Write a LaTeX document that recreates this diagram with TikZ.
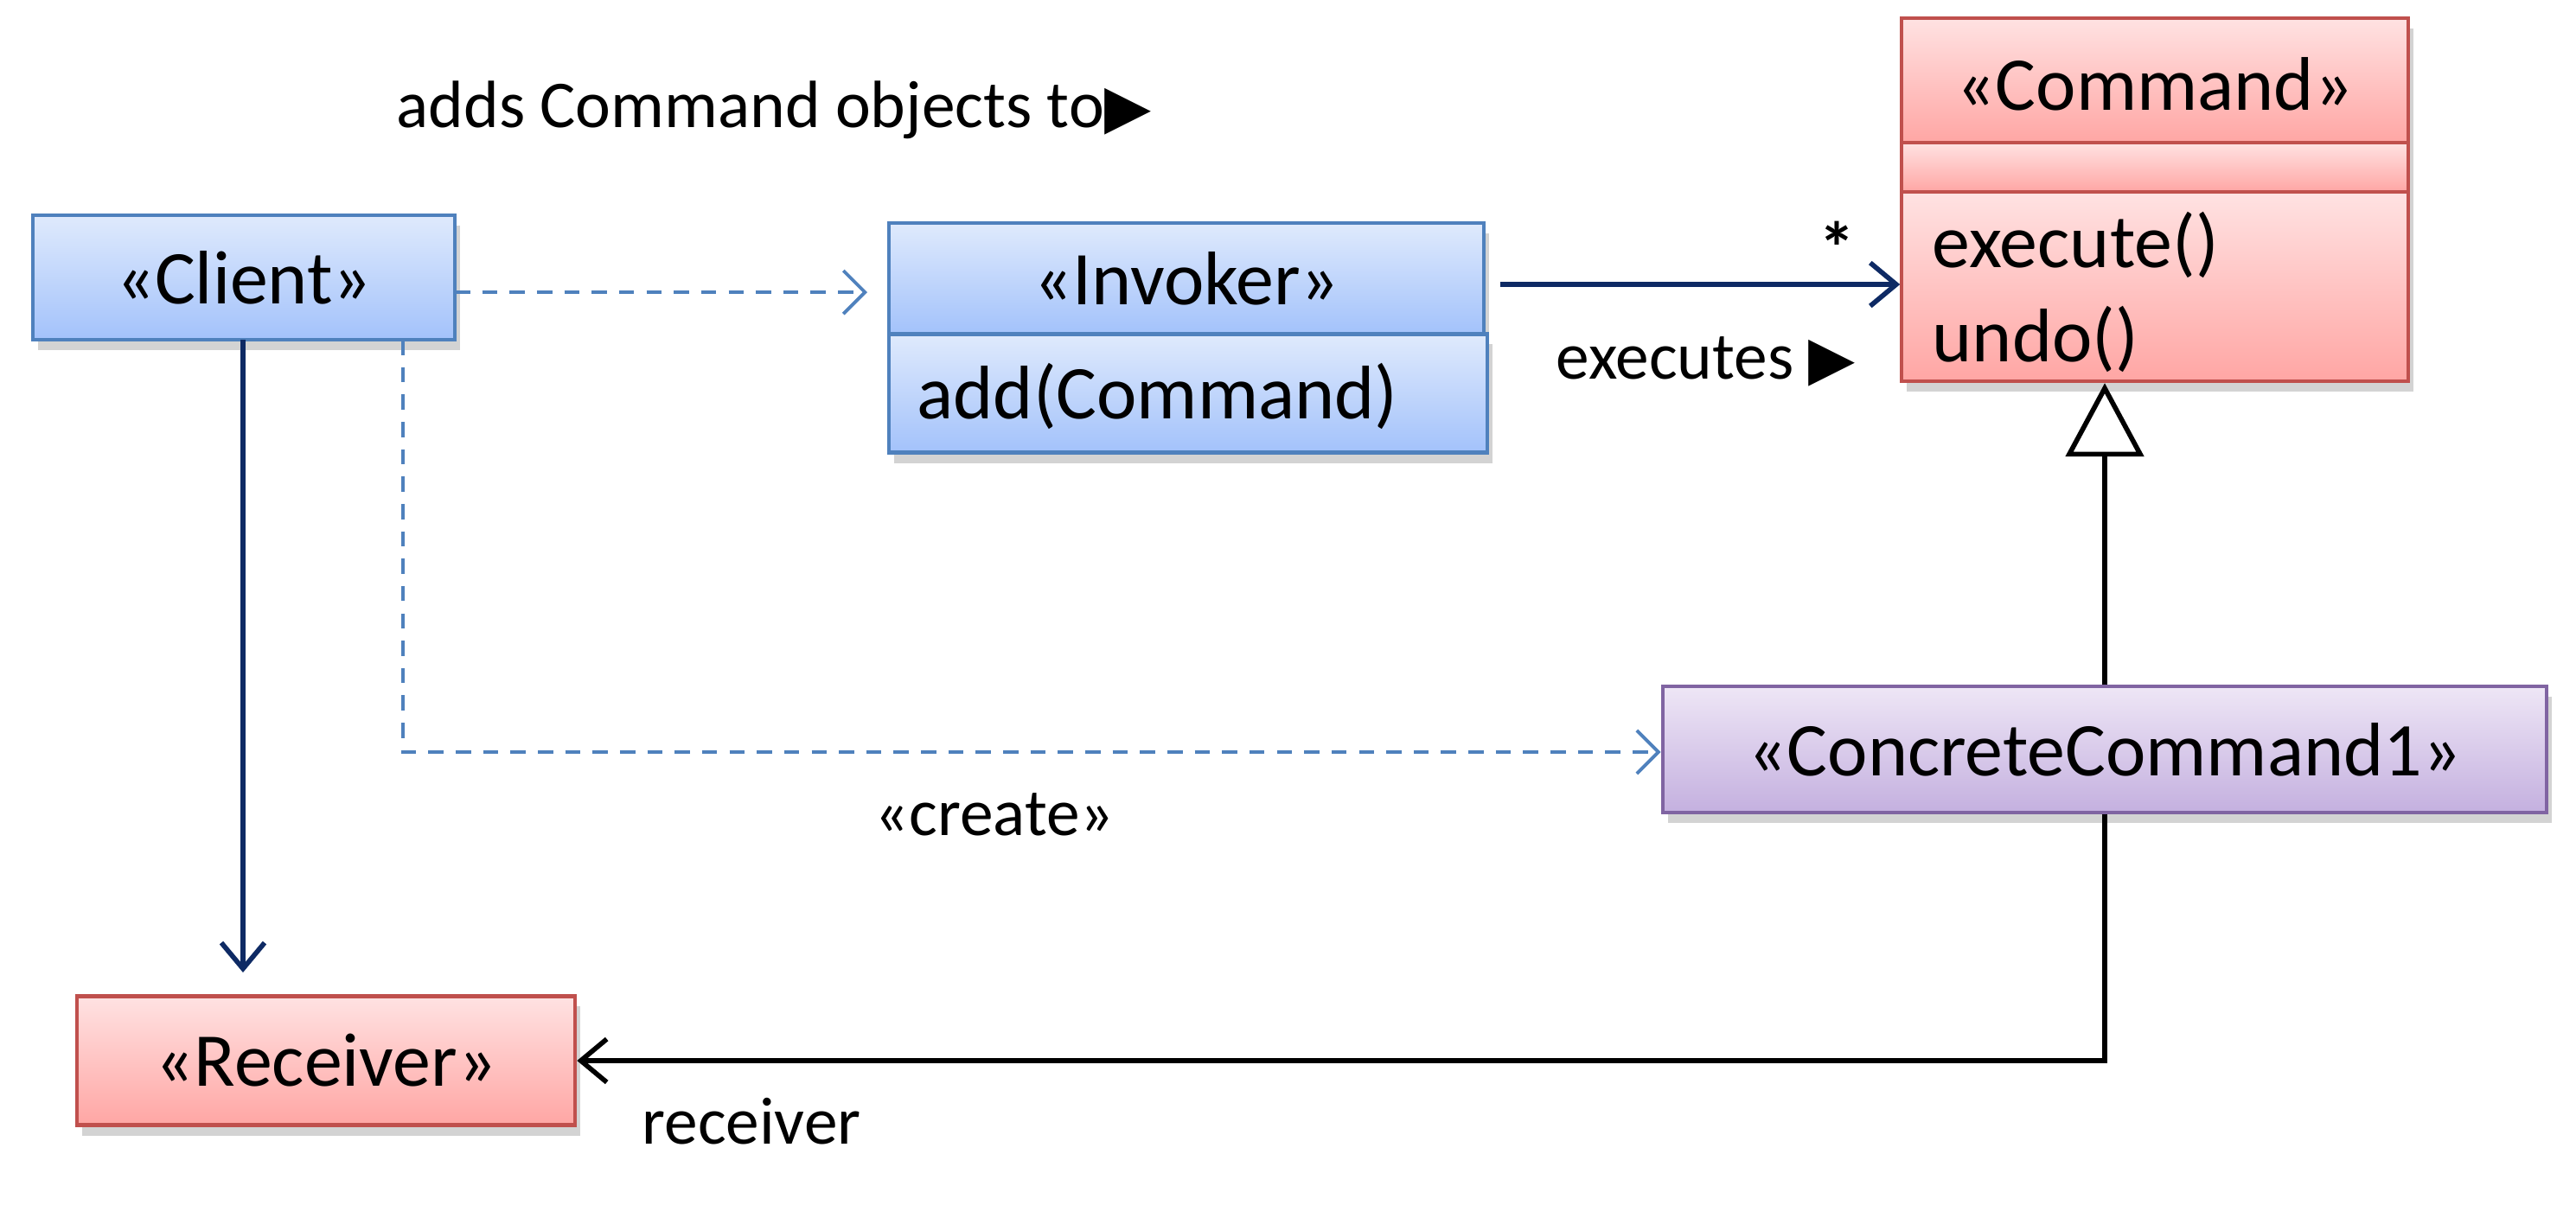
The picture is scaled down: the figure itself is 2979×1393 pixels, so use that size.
\documentclass[tikz,border=0pt]{standalone}
\usepackage{fontspec}
\setmainfont{Carlito}
\newfontfamily\dejavu{DejaVu Sans}
\usetikzlibrary{arrows.meta,shadows}
\definecolor{bluetop}{HTML}{DFEAFC}
\definecolor{bluebot}{HTML}{A3C2FB}
\definecolor{blueedge}{HTML}{4F81BD}
\definecolor{redtop}{HTML}{FFE2E2}
\definecolor{redbot}{HTML}{FFA6A4}
\definecolor{rededge}{HTML}{C0504D}
\definecolor{purtop}{HTML}{EEE6F6}
\definecolor{purbot}{HTML}{C4B0DF}
\definecolor{puredge}{HTML}{8064A2}
\definecolor{navy}{HTML}{0E2A64}
\tikzset{
  box/.style={draw, line width=1.2pt, inner sep=0pt, font=\fontsize{25}{30}\selectfont,
    drop shadow={shadow xshift=0.6mm, shadow yshift=-1.2mm, opacity=0.35}},
  bluebox/.style={box, draw=blueedge, top color=bluetop, bottom color=bluebot},
  redbox/.style={box, draw=rededge, top color=redtop, bottom color=redbot},
  purbox/.style={box, draw=puredge, top color=purtop, bottom color=purbot},
  lbl/.style={font=\fontsize{22}{26}\selectfont, inner sep=0pt},
  txt/.style={font=\fontsize{25}{30}\selectfont, inner sep=0pt, anchor=west},
  assoc/.style={draw=navy, line width=1.6pt, -{Straight Barb[length=3mm,width=5mm,line width=1.6pt]}},
  dep/.style={draw=blueedge, line width=1.1pt, dash pattern=on 5pt off 4pt, -{Straight Barb[length=2.5mm,width=5mm,line width=1.1pt]}},
  gen/.style={draw=black, line width=1.6pt, -{Triangle[open,length=8.5mm,width=9mm,line width=1.6pt]}},
  real/.style={draw=black, line width=1.6pt, -{Straight Barb[length=3mm,width=5mm,line width=1.6pt]}},
}
\begin{document}
\begin{tikzpicture}[x=0.01cm,y=-0.01cm]
\useasboundingbox (0,0) rectangle (2979,1393);
% Client
\node[bluebox, minimum width=4.88cm, minimum height=1.44cm] (client) at (282,321) {\fontsize{25}{30}\selectfont<<Client>>};
% Invoker
\node[bluebox, minimum width=6.88cm, minimum height=1.28cm] (inv) at (1372,322) {\fontsize{25}{30}\selectfont<<Invoker>>};
\node[bluebox, minimum width=6.92cm, minimum height=1.37cm] (invm) at (1374,455) {};
\node[txt] (invadd) at (1060,458) {add(Command)};
% Command
\node[redbox, minimum width=5.85cm, minimum height=1.44cm] (cmd) at (2492,93) {};
\node[redbox, minimum width=5.85cm, minimum height=0.57cm] (cmda) at (2492,193.5) {};
\node[redbox, minimum width=5.85cm, minimum height=2.19cm] (cmdm) at (2492,331.5) {};
\node[font=\fontsize{25}{30}\selectfont, inner sep=0pt] (cmdt) at (2492,97) {<<Command>>};
\node[txt] (exe) at (2234,283) {execute()};
\node[txt] (undo) at (2234,392) {undo()};
% ConcreteCommand1
\node[purbox, minimum width=10.22cm, minimum height=1.46cm] (cc) at (2434,867) {<<ConcreteCommand1>>};
% Receiver
\node[redbox, minimum width=5.76cm, minimum height=1.49cm] (rec) at (377,1227) {<<Receiver>>};
% labels
\node[lbl, anchor=west] (adds) at (458,127) {adds Command objects to{\dejavu\fontsize{20}{24}\selectfont ▶}};
\node[lbl, anchor=west] (execl) at (1799,418) {executes {\dejavu\fontsize{20}{24}\selectfont ▶}};
\node[lbl, font=\bfseries\fontsize{24}{28}\selectfont] (star) at (2124,286) {*};
\node[lbl] (create) at (1150,942) {<<create>>};
\node[lbl] (recl) at (869,1297) {receiver};
% connectors
\coordinate (c1) at (526,338);
\coordinate (i1) at (1003,338);
\draw[dep] (c1) -- (i1);
\coordinate (c2) at (466,393);
\coordinate (c3) at (466,870);
\draw[dep] (c2) -- (c3) -- (cc.west |- 0,870);
\coordinate (i2) at (1735,329);
\draw[assoc] (i2) -- (cmdm.west |- i2);
\coordinate (c4) at (281,393);
\coordinate (r1) at (281,1125);
\draw[assoc] (c4) -- (r1);
\draw[gen] (cc.north) -- (cmdm.south -| cc.north);
\coordinate (k1) at (2434,1227);
\draw[real] (cc.south) -- (k1) -- (rec.east);
\end{tikzpicture}
\end{document}
